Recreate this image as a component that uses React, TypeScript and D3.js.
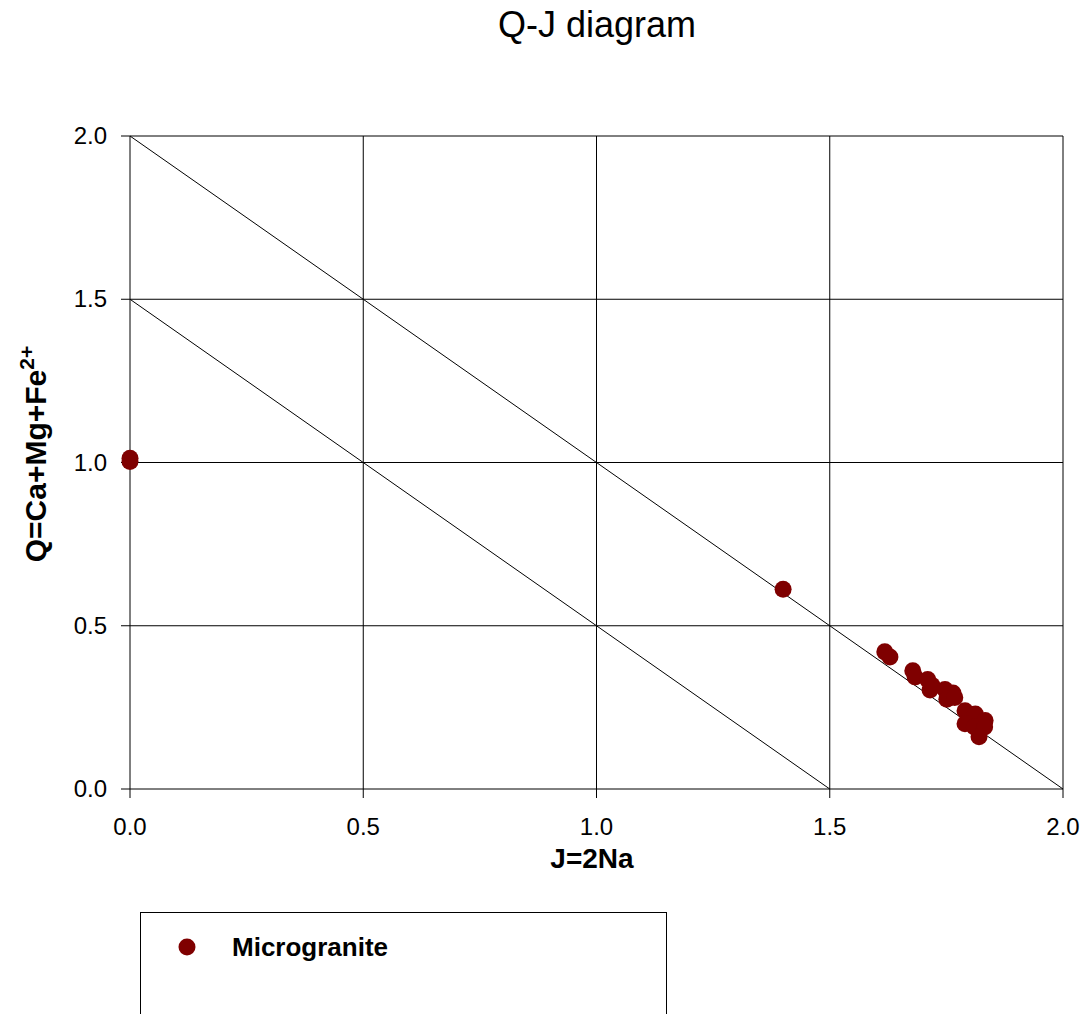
import React from "react";
import * as d3 from "d3";

const seriesName = "Microgranite";
const jValues = [0, 0, 1.40, 1.618, 1.629, 1.678, 1.683, 1.71, 1.719, 1.715, 1.747, 1.753, 1.764, 1.751, 1.768, 1.79, 1.812, 1.833, 1.79, 1.81, 1.832, 1.82];
const qValues = [1.013, 1.003, 0.612, 0.42, 0.404, 0.362, 0.343, 0.335, 0.318, 0.303, 0.305, 0.29, 0.294, 0.275, 0.28, 0.24, 0.23, 0.21, 0.2, 0.19, 0.19, 0.16];
const xTicks = [0, 0.5, 1.0, 1.5, 2.0];
const yTicks = [0, 0.5, 1.0, 1.5, 2.0];
const refLines = [
  { x1: 0, y1: 2, x2: 2, y2: 0 },
  { x1: 0, y1: 1.5, x2: 1.5, y2: 0 },
];

export default function App() {
  const W = 1085, H = 1014;
  const left = 130, right = 1063, top = 136, bottom = 789;
  const x = d3.scaleLinear().domain([0, 2]).range([left, right]);
  const y = d3.scaleLinear().domain([0, 2]).range([bottom, top]);
  const font = "Arial, 'Liberation Sans', sans-serif";
  const color = "#7f0000";
  return (
    <svg width={W} height={H} style={{ position: "absolute", left: 0, top: 0, background: "#fff" }} fontFamily={font}>
      <rect x={0} y={0} width={W} height={H} fill="#fff" />
      <text x={597} y={37} textAnchor="middle" fontSize={36}>Q-J diagram</text>
      {xTicks.map((t) => (
        <g key={"xg" + t}>
          <line x1={x(t)} x2={x(t)} y1={top} y2={bottom + 9} stroke="#000" strokeWidth={1} />
          <text x={x(t)} y={835} textAnchor="middle" fontSize={24}>{t.toFixed(1)}</text>
        </g>
      ))}
      {yTicks.map((t) => (
        <g key={"yg" + t}>
          <line x1={left - 9} x2={right} y1={y(t)} y2={y(t)} stroke="#000" strokeWidth={1} />
          <text x={107} y={y(t) + 8} textAnchor="end" fontSize={24}>{t.toFixed(1)}</text>
        </g>
      ))}
      {refLines.map((l, i) => (
        <line key={"rl" + i} x1={x(l.x1)} y1={y(l.y1)} x2={x(l.x2)} y2={y(l.y2)} stroke="#000" strokeWidth={1} />
      ))}
      {jValues.map((j, i) => (
        <circle key={"p" + i} cx={x(j)} cy={y(qValues[i])} r={8.5} fill={color} />
      ))}
      <text x={592} y={868} textAnchor="middle" fontSize={28} fontWeight="bold">J=2Na</text>
      <text transform="translate(46,454) rotate(-90)" textAnchor="middle" fontSize={30} fontWeight="bold">
        Q=Ca+Mg+Fe<tspan dy={-12} fontSize={21}>2+</tspan>
      </text>
      <rect x={140.5} y={912.5} width={526} height={200} fill="none" stroke="#000" strokeWidth={1} />
      <circle cx={187} cy={947} r={8.5} fill={color} />
      <text x={232} y={956} fontSize={26} fontWeight="bold">{seriesName}</text>
    </svg>
  );
}
